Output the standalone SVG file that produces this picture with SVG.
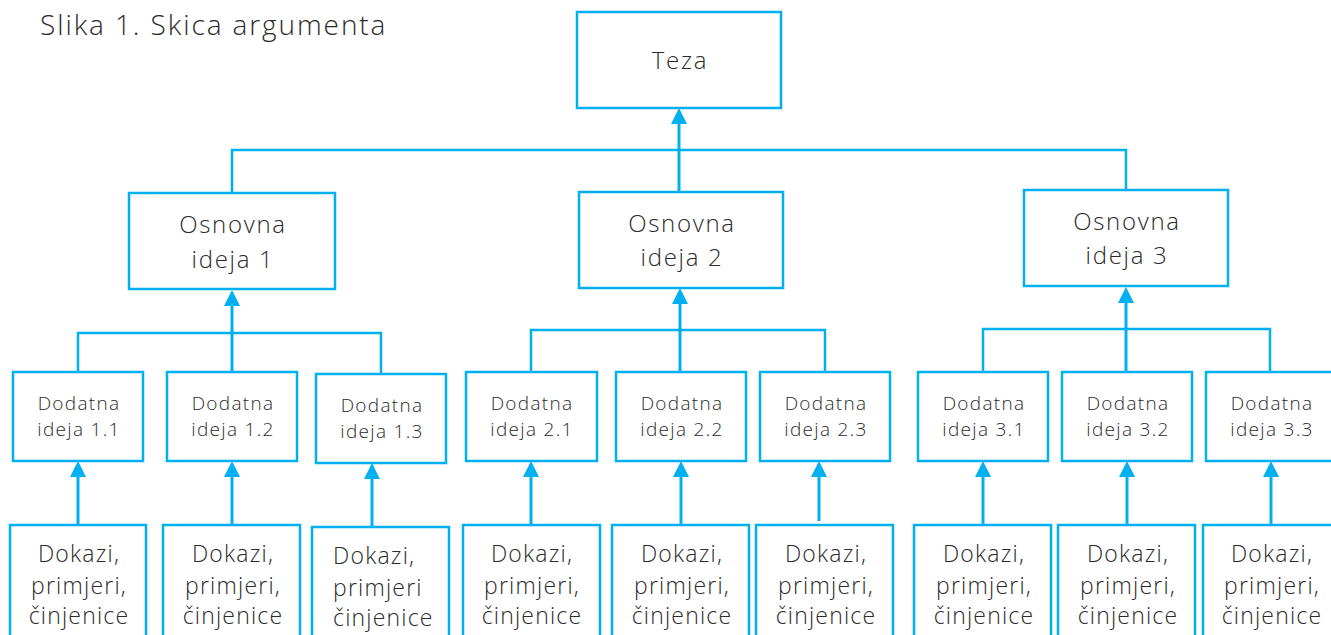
<svg xmlns="http://www.w3.org/2000/svg" width="1331" height="635" viewBox="0 0 1331 635">
<defs>
<style>
.box{fill:#fff;stroke:#00B0F0;stroke-width:2.5}
.ln{fill:none;stroke:#00B0F0;stroke-width:2.5}
.sh{fill:none;stroke:#00B0F0;stroke-width:3;marker-end:url(#ah)}
text{font-family:"Open Sans","Liberation Sans",sans-serif;fill:#2b2b2b;text-anchor:middle;font-weight:300}
.t1{font-size:24px;letter-spacing:1.7px}
.t2{font-size:19px;letter-spacing:1.3px}
.t3{font-size:23px;letter-spacing:1.2px}
.title{font-size:28px;text-anchor:start;letter-spacing:1.9px}
.l{text-anchor:start}
</style>
<marker id="ah" markerUnits="userSpaceOnUse" markerWidth="16" markerHeight="16" viewBox="0 0 16 16" refX="0" refY="8" orient="auto"><path d="M0 0L16 8L0 16z" fill="#00B0F0"/></marker>
</defs>
<rect width="1331" height="635" fill="#fff"/>
<text class="title" x="40" y="35">Slika 1. Skica argumenta</text>

<g id="connectors">
<path class="sh" d="M679 192V124"/>
<path class="ln" d="M232 193V150H1126V190"/>
<path class="sh" d="M232 372V306"/>
<path class="ln" d="M78 372V333H381V374"/>
<path class="sh" d="M680 372V304"/>
<path class="ln" d="M531 372V330H825V372"/>
<path class="sh" d="M1126 372V303"/>
<path class="ln" d="M983 372V329H1270V372"/>
<path class="sh" d="M78 525V477"/>
<path class="sh" d="M232 525V477"/>
<path class="sh" d="M372 527V479"/>
<path class="sh" d="M531 525V477"/>
<path class="sh" d="M681 525V477"/>
<path class="sh" d="M819 521V477"/>
<path class="sh" d="M983 525V477"/>
<path class="sh" d="M1127 525V477"/>
<path class="sh" d="M1271 525V477"/>
</g>

<g id="teza"><rect class="box" x="577" y="12" width="204" height="96"/><text class="t1" x="680" y="69">Teza</text></g>

<g id="osnovna1"><rect class="box" x="129" y="193" width="206" height="96"/><text class="t1" x="233" y="233">Osnovna</text><text class="t1" x="233" y="268">ideja 1</text></g>
<g id="osnovna2"><rect class="box" x="579" y="192" width="204" height="96"/><text class="t1" x="682" y="232">Osnovna</text><text class="t1" x="682" y="266">ideja 2</text></g>
<g id="osnovna3"><rect class="box" x="1024" y="190" width="204" height="96"/><text class="t1" x="1127" y="230">Osnovna</text><text class="t1" x="1127" y="264">ideja 3</text></g>

<g id="dodatna11"><rect class="box" x="13" y="372" width="130" height="89"/><text class="t2" x="79" y="410">Dodatna</text><text class="t2" x="79" y="436">ideja 1.1</text></g>
<g id="dodatna12"><rect class="box" x="167" y="372" width="130" height="89"/><text class="t2" x="233" y="410">Dodatna</text><text class="t2" x="233" y="436">ideja 1.2</text></g>
<g id="dodatna13"><rect class="box" x="316" y="374" width="130" height="89"/><text class="t2" x="382" y="412">Dodatna</text><text class="t2" x="382" y="438">ideja 1.3</text></g>
<g id="dodatna21"><rect class="box" x="466" y="372" width="131" height="89"/><text class="t2" x="532" y="410">Dodatna</text><text class="t2" x="532" y="436">ideja 2.1</text></g>
<g id="dodatna22"><rect class="box" x="616" y="372" width="130" height="89"/><text class="t2" x="682" y="410">Dodatna</text><text class="t2" x="682" y="436">ideja 2.2</text></g>
<g id="dodatna23"><rect class="box" x="760" y="372" width="130" height="89"/><text class="t2" x="826" y="410">Dodatna</text><text class="t2" x="826" y="436">ideja 2.3</text></g>
<g id="dodatna31"><rect class="box" x="918" y="372" width="130" height="89"/><text class="t2" x="984" y="410">Dodatna</text><text class="t2" x="984" y="436">ideja 3.1</text></g>
<g id="dodatna32"><rect class="box" x="1062" y="372" width="130" height="89"/><text class="t2" x="1128" y="410">Dodatna</text><text class="t2" x="1128" y="436">ideja 3.2</text></g>
<g id="dodatna33"><rect class="box" x="1206" y="372" width="130" height="89"/><text class="t2" x="1272" y="410">Dodatna</text><text class="t2" x="1272" y="436">ideja 3.3</text></g>

<g id="dokazi11"><rect class="box" x="10" y="525" width="136" height="120"/><text class="t3" x="79" y="562">Dokazi,</text><text class="t3" x="79" y="594">primjeri,</text><text class="t3" x="79" y="624">činjenice</text></g>
<g id="dokazi12"><rect class="box" x="163" y="525" width="137" height="120"/><text class="t3" x="233" y="562">Dokazi,</text><text class="t3" x="233" y="594">primjeri,</text><text class="t3" x="233" y="624">činjenice</text></g>
<g id="dokazi13"><rect class="box" x="312" y="527" width="137" height="120"/><text class="t3 l" x="333" y="564">Dokazi,</text><text class="t3 l" x="333" y="596">primjeri</text><text class="t3 l" x="333" y="626">činjenice</text></g>
<g id="dokazi21"><rect class="box" x="463" y="525" width="137" height="120"/><text class="t3" x="532" y="562">Dokazi,</text><text class="t3" x="532" y="594">primjeri,</text><text class="t3" x="532" y="624">činjenice</text></g>
<g id="dokazi22"><rect class="box" x="612" y="525" width="137" height="120"/><text class="t3" x="682" y="562">Dokazi,</text><text class="t3" x="682" y="594">primjeri,</text><text class="t3" x="682" y="624">činjenice</text></g>
<g id="dokazi23"><rect class="box" x="756" y="525" width="137" height="120"/><text class="t3" x="826" y="562">Dokazi,</text><text class="t3" x="826" y="594">primjeri,</text><text class="t3" x="826" y="624">činjenice</text></g>
<g id="dokazi31"><rect class="box" x="914" y="525" width="137" height="120"/><text class="t3" x="984" y="562">Dokazi,</text><text class="t3" x="984" y="594">primjeri,</text><text class="t3" x="984" y="624">činjenice</text></g>
<g id="dokazi32"><rect class="box" x="1058" y="525" width="137" height="120"/><text class="t3" x="1128" y="562">Dokazi,</text><text class="t3" x="1128" y="594">primjeri,</text><text class="t3" x="1128" y="624">činjenice</text></g>
<g id="dokazi33"><rect class="box" x="1203" y="525" width="137" height="120"/><text class="t3" x="1272" y="562">Dokazi,</text><text class="t3" x="1272" y="594">primjeri,</text><text class="t3" x="1272" y="624">činjenice</text></g>
</svg>
